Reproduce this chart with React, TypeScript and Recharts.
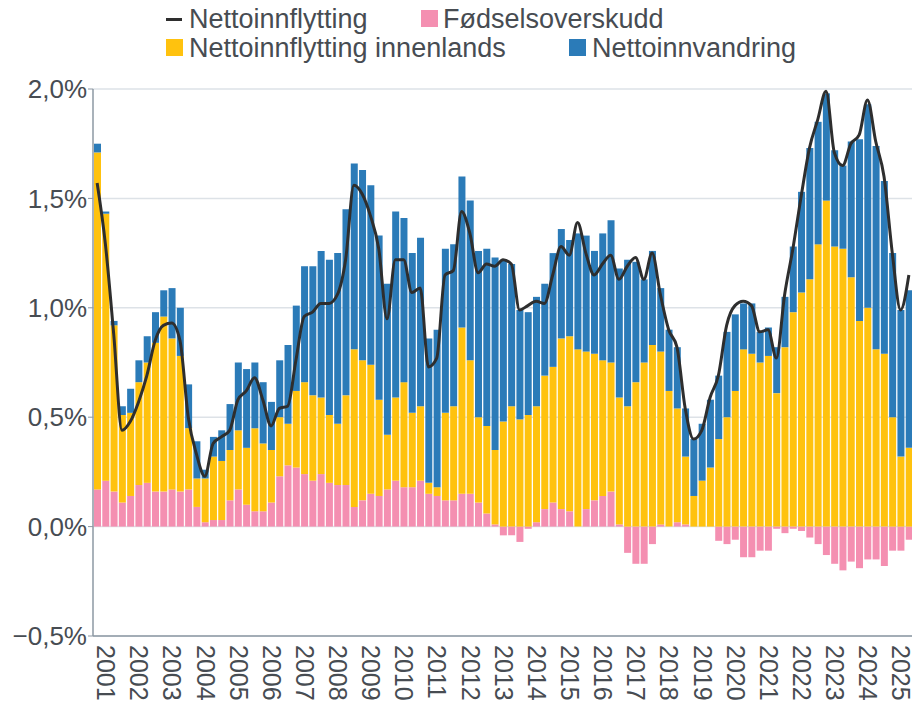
import { Bar, CartesianGrid, ComposedChart, Line, XAxis, YAxis } from 'recharts';

const FONT = '"Liberation Sans", Arial, Helvetica, sans-serif';
const TEXT = '#474c52';
const AXIS = '#8d98a3';
const GRID = '#dde2e7';

const PINK = '#f48fb1';
const YELLOW = '#ffc20e';
const BLUE = '#2b7bb8';
const LINE = '#2e2e2e';

const startYear = 2001;

// Andel av folketallet, per kvartal fra 2001K1
const fodselsoverskudd = [
  0.17, 0.21, 0.16, 0.11, 0.14, 0.19, 0.2, 0.16, 0.16, 0.17, 0.16, 0.17,
  0.09, 0.02, 0.03, 0.03, 0.12, 0.17, 0.1, 0.07, 0.07, 0.11, 0.23, 0.28,
  0.27, 0.24, 0.21, 0.24, 0.2, 0.19, 0.19, 0.09, 0.12, 0.15, 0.14, 0.17,
  0.21, 0.18, 0.18, 0.21, 0.15, 0.14, 0.12, 0.12, 0.15, 0.15, 0.11, 0.06,
  0.01, -0.04, -0.04, -0.07, -0.01, 0.02, 0.08, 0.11, 0.08, 0.07, 0.0, 0.08,
  0.12, 0.14, 0.16, 0.01, -0.12, -0.17, -0.17, -0.08, 0.01, 0.0, 0.02, 0.01,
  0.0, 0.0, 0.0, -0.065, -0.08, -0.06, -0.14, -0.14, -0.11, -0.11, -0.01, -0.03,
  -0.01, -0.02, -0.05, -0.08, -0.13, -0.17, -0.2, -0.16, -0.19, -0.15, -0.15, -0.18,
  -0.11, -0.11, -0.06,
];

const innenlands = [
  1.54, 1.22, 0.76, 0.4, 0.38, 0.47, 0.55, 0.68, 0.8, 0.69, 0.62, 0.28,
  0.13, 0.2, 0.29, 0.27, 0.23, 0.27, 0.26, 0.38, 0.31, 0.24, 0.27, 0.19,
  0.35, 0.42, 0.39, 0.35, 0.31, 0.28, 0.41, 0.72, 0.64, 0.59, 0.44, 0.25,
  0.38, 0.48, 0.34, 0.34, 0.05, 0.04, 0.4, 0.43, 0.76, 0.61, 0.39, 0.4,
  0.34, 0.48, 0.55, 0.49, 0.51, 0.53, 0.61, 0.62, 0.78, 0.8, 0.81, 0.72,
  0.67, 0.62, 0.59, 0.58, 0.55, 0.66, 0.75, 0.83, 0.79, 0.62, 0.52, 0.31,
  0.14, 0.21, 0.27, 0.4, 0.5, 0.62, 0.81, 0.79, 0.75, 0.78, 0.61, 0.82,
  0.98, 1.07, 1.13, 1.29, 1.49, 1.28, 1.27, 1.14, 0.94, 1.0, 0.81, 0.79,
  0.5, 0.32, 0.36,
];

const innvandring = [
  0.04, 0.01, 0.02, 0.04, 0.11, 0.1, 0.12, 0.14, 0.12, 0.23, 0.22, 0.2,
  0.17, 0.04, 0.09, 0.14, 0.21, 0.31, 0.36, 0.3, 0.28, 0.22, 0.26, 0.36,
  0.39, 0.53, 0.59, 0.67, 0.71, 0.78, 0.85, 0.85, 0.87, 0.82, 0.75, 0.69,
  0.85, 0.75, 0.73, 0.77, 0.66, 0.72, 0.75, 0.74, 0.69, 0.73, 0.76, 0.81,
  0.88, 0.74, 0.65, 0.5, 0.47, 0.5, 0.42, 0.52, 0.5, 0.44, 0.53, 0.53,
  0.47, 0.58, 0.65, 0.59, 0.67, 0.55, 0.38, 0.43, 0.29, 0.28, 0.28, 0.22,
  0.26, 0.26, 0.31, 0.29, 0.39, 0.35, 0.21, 0.23, 0.14, 0.13, 0.21, 0.23,
  0.3, 0.46, 0.6, 0.56, 0.49, 0.44, 0.38, 0.62, 0.83, 0.93, 0.93, 0.79,
  0.75, 0.67, 0.72,
];

const nettoinnflytting = [
  1.57, 1.29, 0.88, 0.44, 0.48, 0.57, 0.69, 0.85, 0.92, 0.93, 0.85, 0.5,
  0.33, 0.23, 0.38, 0.41, 0.44, 0.58, 0.62, 0.68, 0.58, 0.46, 0.54, 0.55,
  0.76, 0.96, 0.98, 1.02, 1.02, 1.06, 1.22, 1.56, 1.52, 1.42, 1.27, 0.95,
  1.22, 1.22, 1.07, 1.09, 0.73, 0.77, 1.15, 1.17, 1.44, 1.34, 1.16, 1.2,
  1.19, 1.22, 1.2, 0.99, 1.01, 1.03, 1.02, 1.15, 1.28, 1.24, 1.39, 1.25,
  1.15, 1.2, 1.24, 1.13, 1.19, 1.23, 1.13, 1.25, 1.06, 0.9, 0.82, 0.54,
  0.4, 0.44, 0.59, 0.69, 0.92, 1.01, 1.03, 1.01, 0.89, 0.9, 0.77, 1.06,
  1.27, 1.51, 1.73, 1.86, 1.99, 1.71, 1.65, 1.75, 1.79, 1.95, 1.76, 1.6,
  1.25, 0.99, 1.15,
];

const quarters = fodselsoverskudd.map(
  (_, i) => `${startYear + Math.floor(i / 4)}K${(i % 4) + 1}`,
);
const yearTicks = quarters.filter((q) => q.endsWith('K1'));
const yTicks = [-0.5, 0, 0.5, 1, 1.5, 2];

const data = quarters.map((q, i) => ({
  q,
  fodselsoverskudd: fodselsoverskudd[i],
  innenlands: innenlands[i],
  innvandring: innvandring[i],
  nettoinnflytting: nettoinnflytting[i],
}));

const formatPct = (v: number) =>
  `${v < 0 ? '\u2212' : ''}${Math.abs(v).toFixed(1).replace('.', ',')}%`;

function YearTick({ x, y, payload }: any) {
  const tx = x;
  const ty = y + 1;
  return (
    <text
      x={tx}
      y={ty}
      transform={`rotate(90 ${tx} ${ty})`}
      textAnchor="start"
      fill={TEXT}
      fontSize={25}
      fontFamily={FONT}
    >
      {String(payload.value).slice(0, 4)}
    </text>
  );
}

const legendText = {
  position: 'absolute' as const,
  fontSize: 27,
  lineHeight: '30px',
  color: TEXT,
  fontFamily: FONT,
  whiteSpace: 'nowrap' as const,
};

function Swatch({ left, top, color }: { left: number; top: number; color: string }) {
  return (
    <div style={{ position: 'absolute', left, top, width: 17, height: 17, background: color }} />
  );
}

function ChartLegend() {
  return (
    <>
      <div style={{ position: 'absolute', left: 166, top: 18, width: 16, height: 3, background: LINE }} />
      <div style={{ ...legendText, left: 189, top: 4 }}>Nettoinnflytting</div>
      <Swatch left={421} top={10} color={PINK} />
      <div style={{ ...legendText, left: 443, top: 4 }}>Fødselsoverskudd</div>
      <Swatch left={166} top={39} color={YELLOW} />
      <div style={{ ...legendText, left: 189, top: 33 }}>Nettoinnflytting innenlands</div>
      <Swatch left={569} top={39} color={BLUE} />
      <div style={{ ...legendText, left: 592, top: 33 }}>Nettoinnvandring</div>
    </>
  );
}

export default function App() {
  return (
    <div
      style={{
        position: 'absolute',
        left: 0,
        top: 0,
        width: 912,
        height: 704,
        overflow: 'hidden',
        background: '#fff',
      }}
    >
      <ChartLegend />
      <ComposedChart
        width={930}
        height={704}
        data={data}
        margin={{ top: 89, right: 17, bottom: 8, left: 0 }}
        stackOffset="sign"
        barGap={0}
      >
        <CartesianGrid vertical={false} stroke={GRID} strokeWidth={1.5} />
        <XAxis
          dataKey="q"
          ticks={yearTicks}
          interval={0}
          height={60}
          tick={<YearTick />}
          tickLine={false}
          axisLine={{ stroke: AXIS, strokeWidth: 1.5 }}
        />
        <YAxis
          width={93}
          domain={[-0.5, 2]}
          ticks={yTicks}
          tickFormatter={formatPct}
          tick={{ fontSize: 26, fill: TEXT, fontFamily: FONT }}
          tickSize={5}
          tickMargin={1}
          tickLine={{ stroke: AXIS }}
          axisLine={{ stroke: AXIS, strokeWidth: 1.5 }}
        />
        <Bar dataKey="fodselsoverskudd" stackId="a" fill={PINK} barSize={7} isAnimationActive={false} />
        <Bar dataKey="innenlands" stackId="a" fill={YELLOW} barSize={7} isAnimationActive={false} />
        <Bar dataKey="innvandring" stackId="a" fill={BLUE} barSize={7} isAnimationActive={false} />
        <Line
          dataKey="nettoinnflytting"
          type="monotone"
          stroke={LINE}
          strokeWidth={3}
          dot={false}
          isAnimationActive={false}
        />
      </ComposedChart>
    </div>
  );
}
